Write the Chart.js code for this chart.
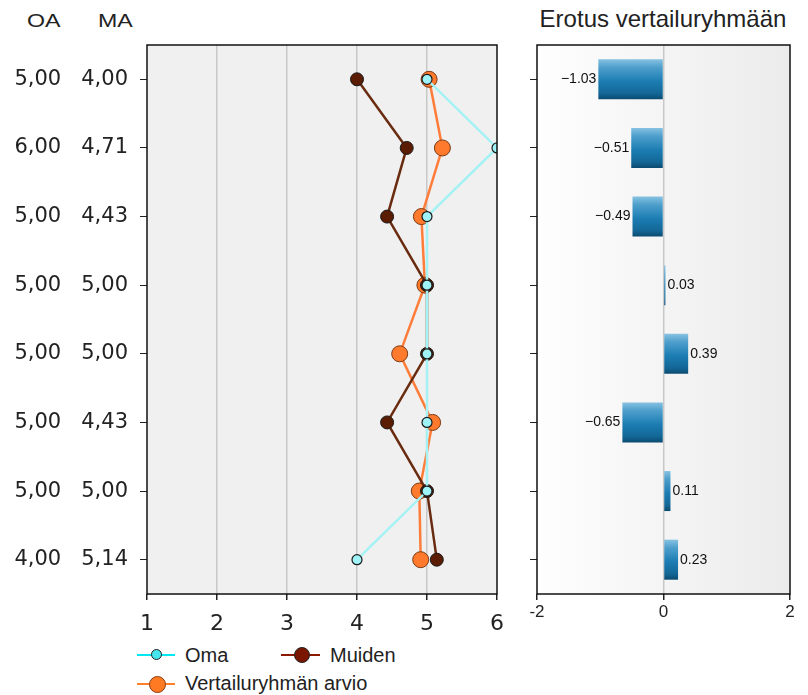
<!DOCTYPE html>
<html>
<head>
<meta charset="utf-8">
<script src="https://cdn.jsdelivr.net/npm/chart.js@4"></script>
<style>
body { margin:0; background:#fff; width:808px; height:695px; overflow:hidden; position:relative; font-family:"Liberation Sans", Arial, sans-serif; color:#222; }
.abs { position:absolute; }
.hdr { font-size:19px; line-height:19px; transform:scaleX(1.22); transform-origin:left top; }
.title { font-size:24px; line-height:24px; width:328px; text-align:center; }
.lg { font-size:20px; line-height:20px; }
.dot { border-radius:50%; box-sizing:border-box; border:1px solid #222; }
</style>
</head>
<body>
<div class="abs hdr" style="left:27px;top:11px">OA</div>
<div class="abs hdr" style="left:98px;top:11px">MA</div>
<div class="abs title" style="left:499px;top:7px">Erotus vertailuryhmään</div>

<div class="abs" style="left:0;top:0"><canvas id="left" width="515" height="640"></canvas></div>
<div class="abs" style="left:480px;top:0"><canvas id="right" width="328" height="640"></canvas></div>

<!-- legend -->
<div class="abs" style="left:137px;top:654px;width:38px;height:2px;background:#00e8f0"></div>
<div class="abs dot" style="left:151px;top:649px;width:11px;height:11px;background:#45e6ee"></div>
<div class="abs lg" style="left:185px;top:645px">Oma</div>
<div class="abs" style="left:281px;top:654px;width:39px;height:2px;background:#8b1a00"></div>
<div class="abs dot" style="left:294px;top:647px;width:16px;height:16px;background:#7a1600"></div>
<div class="abs lg" style="left:330px;top:645px">Muiden</div>
<div class="abs" style="left:137px;top:683px;width:38px;height:2px;background:#ff7f2a"></div>
<div class="abs dot" style="left:149px;top:676px;width:17px;height:17px;background:#ff7a22;border-color:#8a3a10"></div>
<div class="abs lg" style="left:185px;top:673px">Vertailuryhmän arvio</div>

<script>
// rivit: OA = oma arvio, MA = muiden arvio
const oaLabels = ['5,00','6,00','5,00','5,00','5,00','5,00','5,00','4,00'];
const maLabels = ['4,00','4,71','4,43','5,00','5,00','4,43','5,00','5,14'];
const oma      = [5, 6, 5, 5, 5, 5, 5, 4];
const muiden   = [4.00, 4.71, 4.43, 5.00, 5.00, 4.43, 5.00, 5.14];
const vertailu = [5.03, 5.22, 4.92, 4.97, 4.61, 5.08, 4.89, 4.91];
const erotus   = [-1.03, -0.51, -0.49, 0.03, 0.39, -0.65, 0.11, 0.23];
const leftRange  = [1, 6];
const rightRange = [-2, 2];

const rowLabels = oaLabels.map((oa, i) => oa + '   ' + maLabels[i]);

// tausta + kehys
function framePlugin(bg) {
    return {
        id: 'frame',
        beforeDraw(chart) {
            const a = chart.chartArea, c = chart.ctx;
            c.save();
            c.fillStyle = typeof bg === 'function' ? bg(c, a) : bg;
            c.fillRect(a.left, a.top, a.right - a.left, a.bottom - a.top);
            c.restore();
        },
        afterDraw(chart) {
            const a = chart.chartArea, c = chart.ctx;
            c.save();
            c.strokeStyle = '#111';
            c.lineWidth = 1.5;
            c.strokeRect(a.left, a.top, a.right - a.left, a.bottom - a.top);
            c.restore();
        }
    };
}

Chart.defaults.font.family = '"DejaVu Sans", sans-serif';
Chart.defaults.color = '#222';

new Chart(document.getElementById('left'), {
    type: 'line',
    data: {
        labels: rowLabels,
        datasets: [
            {
                label: 'Oma',
                data: oma,
                borderColor: '#a5f2f4',
                borderWidth: 2.5,
                pointRadius: 5,
                pointBackgroundColor: '#9ff3f7',
                pointBorderColor: '#1a1a1a',
                pointBorderWidth: 1.2
            },
            {
                label: 'Muiden',
                data: muiden,
                borderColor: '#6a2c10',
                borderWidth: 2.5,
                pointRadius: 6.5,
                pointBackgroundColor: '#5a1c02',
                pointBorderColor: '#1a1a1a',
                pointBorderWidth: 1
            },
            {
                label: 'Vertailuryhmän arvio',
                data: vertailu,
                borderColor: '#ff7d3b',
                borderWidth: 2.5,
                pointRadius: 8,
                pointBackgroundColor: '#ff7a2c',
                pointBorderColor: '#7a3a14',
                pointBorderWidth: 1
            }
        ]
    },
    options: {
        responsive: false,
        animation: false,
        indexAxis: 'y',
        layout: { padding: { top: 45, right: 17, left: 0, bottom: 0 } },
        plugins: { legend: { display: false }, tooltip: { enabled: false } },
        scales: {
            x: {
                type: 'linear',
                min: leftRange[0], max: leftRange[1],
                ticks: { stepSize: 1, font: { size: 22 }, padding: 11 },
                grid: {
                    color: c => (c.tick && (c.tick.value === leftRange[0] || c.tick.value === leftRange[1])) ? 'rgba(0,0,0,0)' : '#c8c8c8',
                    tickColor: '#222',
                    tickLength: 6,
                    lineWidth: 1.5
                },
                border: { display: false },
                afterFit: s => { s.height = 46; }
            },
            y: {
                type: 'category',
                offset: true,
                ticks: { font: { size: 21 }, padding: 12 },
                grid: { drawOnChartArea: false, tickColor: '#222', tickLength: 7 },
                border: { display: false },
                afterFit: s => { s.width = 147; }
            }
        }
    },
    plugins: [framePlugin('#f0f0f0')]
});

const barLabels = {
    id: 'barLabels',
    afterDatasetsDraw(chart) {
        const c = chart.ctx;
        const meta = chart.getDatasetMeta(0);
        c.save();
        c.font = '14px "Liberation Sans", Arial, sans-serif';
        c.fillStyle = '#111';
        c.textBaseline = 'middle';
        meta.data.forEach((el, i) => {
            const v = erotus[i];
            const txt = (v < 0 ? '\u2212' : '') + Math.abs(v).toFixed(2);
            if (v < 0) {
                c.textAlign = 'right';
                c.fillText(txt, Math.min(el.x, el.base) - 2, el.y);
            } else {
                c.textAlign = 'left';
                c.fillText(txt, Math.max(el.x, el.base) + 2, el.y);
            }
        });
        c.restore();
    }
};

function barFill(c) {
    const y = c.chart.scales.y;
    if (!y || c.dataIndex === undefined) return '#1e7fb5';
    const yc = y.getPixelForValue(c.dataIndex);
    const half = Math.abs(y.getPixelForValue(1) - y.getPixelForValue(0)) * 0.583 / 2;
    if (!isFinite(yc) || !isFinite(half) || half === 0) return '#1e7fb5';
    const g = c.chart.ctx.createLinearGradient(0, yc - half, 0, yc + half);
    g.addColorStop(0, '#86c2e2');
    g.addColorStop(0.2, '#4f9fcc');
    g.addColorStop(0.55, '#1c7db3');
    g.addColorStop(0.85, '#136796');
    g.addColorStop(1, '#0b4a70');
    return g;
}

new Chart(document.getElementById('right'), {
    type: 'bar',
    data: {
        labels: rowLabels,
        datasets: [{
            label: 'Erotus vertailuryhmään',
            data: erotus,
            barPercentage: 0.583,
            categoryPercentage: 1,
            borderWidth: 0,
            backgroundColor: barFill
        }]
    },
    options: {
        responsive: false,
        animation: false,
        indexAxis: 'y',
        layout: { padding: { top: 45, right: 18, left: 0, bottom: 0 } },
        plugins: { legend: { display: false }, tooltip: { enabled: false } },
        scales: {
            x: {
                type: 'linear',
                min: rightRange[0], max: rightRange[1],
                ticks: {
                    stepSize: 2,
                    padding: 2,
                    font: { family: '"Liberation Sans Narrow", "Liberation Sans", sans-serif', size: 17 }
                },
                grid: {
                    color: c => (c.tick && c.tick.value === 0) ? '#c8c8c8' : 'rgba(0,0,0,0)',
                    tickColor: '#222',
                    tickLength: 6,
                    lineWidth: 1.5
                },
                border: { display: false },
                afterFit: s => { s.height = 46; }
            },
            y: {
                type: 'category',
                offset: true,
                ticks: { callback: () => '' },
                grid: { drawOnChartArea: false, tickColor: '#222', tickLength: 7, offset: false },
                border: { display: false },
                afterFit: s => { s.width = 57; }
            }
        }
    },
    plugins: [framePlugin((c, a) => {
        const g = c.createLinearGradient(a.left, 0, a.right, 0);
        g.addColorStop(0, '#fefefe');
        g.addColorStop(1, '#ebebeb');
        return g;
    }), barLabels]
});
</script>
</body>
</html>
